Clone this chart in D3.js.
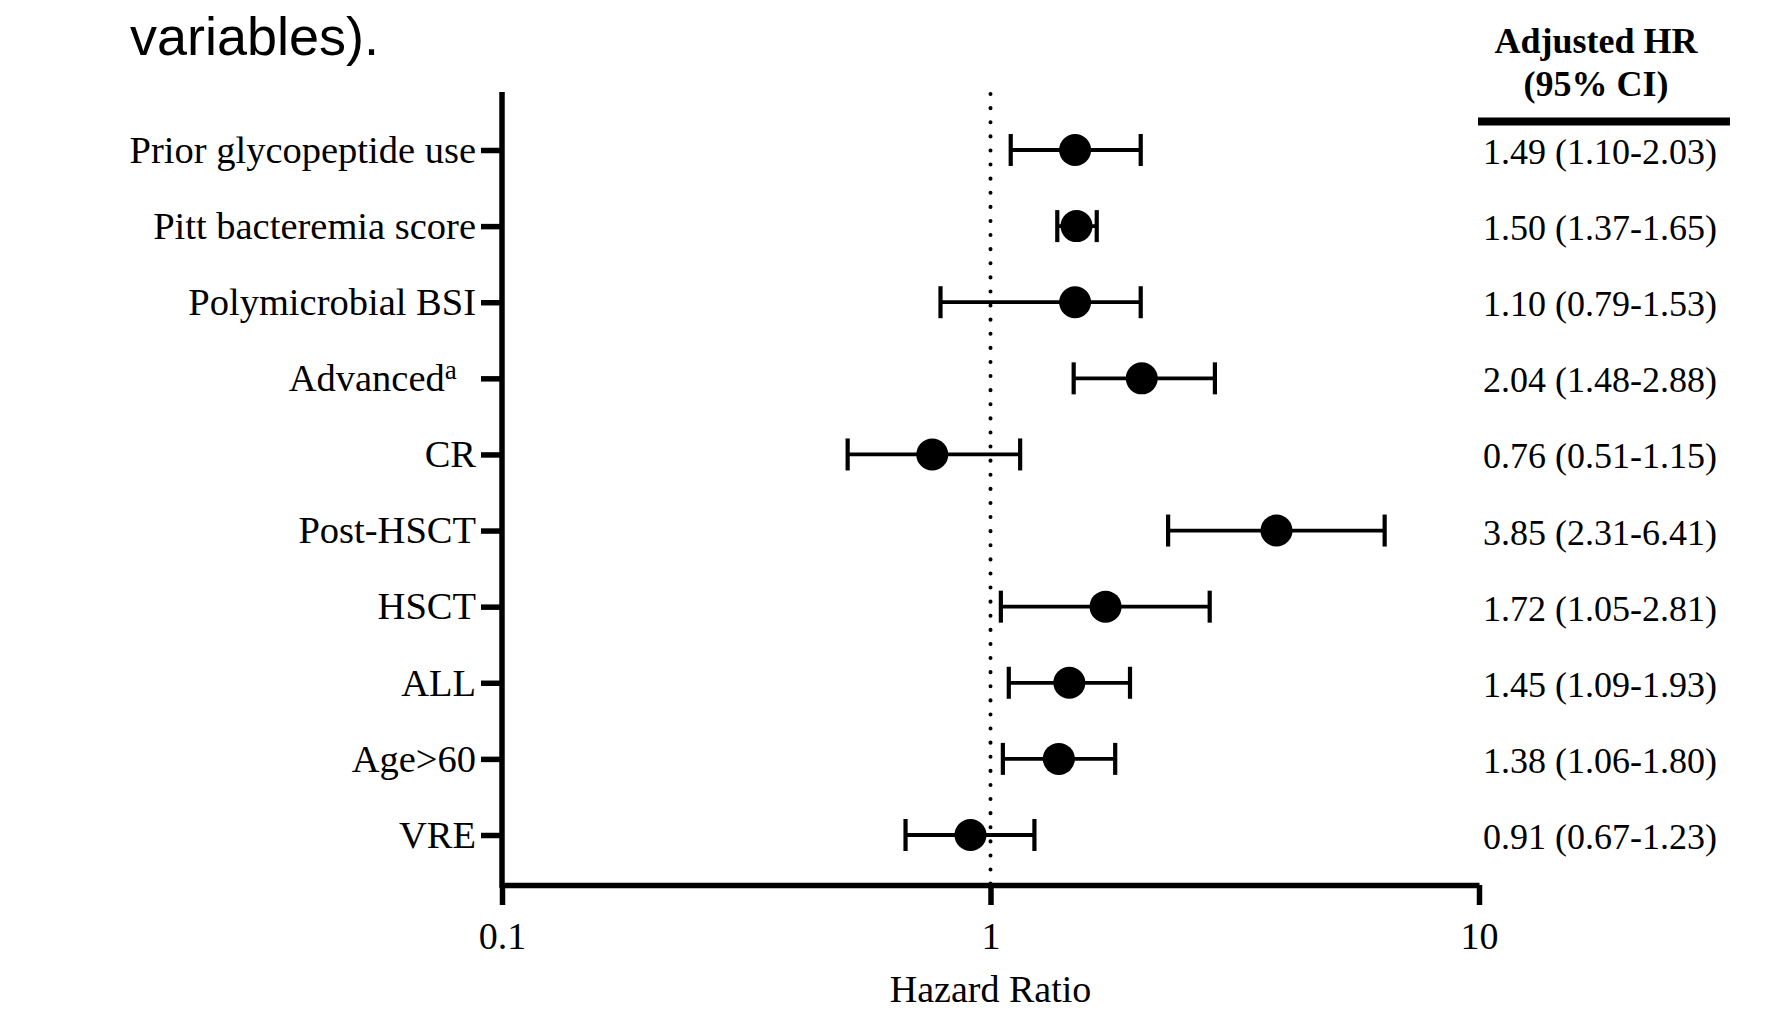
<!DOCTYPE html>
<html>
<head>
<meta charset="utf-8">
<script src="https://cdn.jsdelivr.net/npm/d3@7"></script>
<style>
  html, body { margin: 0; padding: 0; background: #fff; }
  svg { display: block; }
</style>
</head>
<body>
<svg id="chart" width="1770" height="1011"></svg>
<script>
// ---- Data ----
const categories = [
  "Prior glycopeptide use",
  "Pitt bacteremia score",
  "Polymicrobial BSI",
  "Advanced",
  "CR",
  "Post-HSCT",
  "HSCT",
  "ALL",
  "Age>60",
  "VRE"
];
const hazardRatio = [1.49, 1.50, 1.49, 2.04, 0.76, 3.85, 1.72, 1.45, 1.38, 0.91];
const ciLower     = [1.10, 1.37, 0.79, 1.48, 0.51, 2.31, 1.05, 1.09, 1.06, 0.67];
const ciUpper     = [2.03, 1.65, 2.03, 2.88, 1.15, 6.41, 2.81, 1.93, 1.80, 1.23];
const ciLabels = [
  "1.49 (1.10-2.03)",
  "1.50 (1.37-1.65)",
  "1.10 (0.79-1.53)",
  "2.04 (1.48-2.88)",
  "0.76 (0.51-1.15)",
  "3.85 (2.31-6.41)",
  "1.72 (1.05-2.81)",
  "1.45 (1.09-1.93)",
  "1.38 (1.06-1.80)",
  "0.91 (0.67-1.23)"
];
const xTickValues = [0.1, 1, 10];
const xTickLabels = ["0.1", "1", "10"];
const referenceValue = 1;
const titleText = "variables).";
const headerLines = ["Adjusted HR", "(95% CI)"];
const xAxisTitle = "Hazard Ratio";

// ---- Layout ----
const serif = "'Liberation Serif', 'Times New Roman', Times, serif";
const sans = "'Liberation Sans', Arial, Helvetica, sans-serif";
const plotLeft = 502, plotRight = 1479, plotTop = 92, plotBottom = 885;
const axisWidth = 5.5;

const svg = d3.select("#chart");

const x = d3.scaleLog().domain([0.1, 10]).range([plotLeft, plotRight]);
const y = d3.scalePoint().domain(categories).range([150, 835]);

const rows = categories.map((c, i) => ({
  cat: c, hr: hazardRatio[i], lo: ciLower[i], hi: ciUpper[i], label: ciLabels[i]
}));

// Title fragment
svg.append("text")
  .attr("x", 130).attr("y", 55)
  .attr("font-family", sans).attr("font-size", 54)
  .attr("fill", "#000")
  .text(titleText);

// Reference dotted line at HR = 1
svg.append("line")
  .attr("x1", x(referenceValue)).attr("x2", x(referenceValue))
  .attr("y1", plotTop + 2).attr("y2", plotBottom)
  .attr("stroke", "#000").attr("stroke-width", 4)
  .attr("stroke-linecap", "round")
  .attr("stroke-dasharray", "0.1,14");

// X axis
const xAxis = d3.axisBottom(x)
  .tickValues(xTickValues)
  .tickFormat((d, i) => xTickLabels[i])
  .tickSize(20).tickSizeOuter(0).tickPadding(17);

const gx = svg.append("g")
  .attr("transform", `translate(0,${plotBottom})`)
  .call(xAxis);
gx.select(".domain").attr("stroke", "#000").attr("stroke-width", axisWidth);
gx.selectAll(".tick line").attr("stroke", "#000").attr("stroke-width", axisWidth);
gx.selectAll(".tick text")
  .attr("font-family", serif).attr("font-size", 38).attr("fill", "#000");

// Y axis
const yAxis = d3.axisLeft(y).tickSize(21).tickSizeOuter(0).tickPadding(5);
const gy = svg.append("g")
  .attr("transform", `translate(${plotLeft},0)`)
  .call(yAxis);
gy.select(".domain").remove();
gy.selectAll(".tick line").attr("stroke", "#000").attr("stroke-width", axisWidth);
gy.selectAll(".tick text")
  .attr("font-family", serif).attr("font-size", 38.5).attr("fill", "#000")
  .each(function (d) {
    if (d === "Advanced") {
      const t = d3.select(this);
      t.text(null);
      t.append("tspan").text("Advanced");
      t.append("tspan").attr("font-size", 27).attr("dy", -12).text("a");
      t.append("tspan").attr("dy", 12).text("\u00a0\u00a0");
    }
  });
// Vertical axis line
svg.append("line")
  .attr("x1", plotLeft).attr("x2", plotLeft)
  .attr("y1", plotTop).attr("y2", plotBottom + axisWidth / 2)
  .attr("stroke", "#000").attr("stroke-width", axisWidth);

// Error bars
const bars = svg.append("g").selectAll("g").data(rows).join("g");
bars.append("line")
  .attr("x1", d => x(d.lo)).attr("x2", d => x(d.hi))
  .attr("y1", d => y(d.cat)).attr("y2", d => y(d.cat))
  .attr("stroke", "#000").attr("stroke-width", 3.8);
bars.append("line")
  .attr("x1", d => x(d.lo)).attr("x2", d => x(d.lo))
  .attr("y1", d => y(d.cat) - 16).attr("y2", d => y(d.cat) + 16)
  .attr("stroke", "#000").attr("stroke-width", 4.2);
bars.append("line")
  .attr("x1", d => x(d.hi)).attr("x2", d => x(d.hi))
  .attr("y1", d => y(d.cat) - 16).attr("y2", d => y(d.cat) + 16)
  .attr("stroke", "#000").attr("stroke-width", 4.2);
bars.append("circle")
  .attr("cx", d => x(d.hr)).attr("cy", d => y(d.cat))
  .attr("r", 16).attr("fill", "#000");

// X axis title
svg.append("text")
  .attr("x", x(referenceValue)).attr("y", 1002)
  .attr("text-anchor", "middle")
  .attr("font-family", serif).attr("font-size", 38).attr("fill", "#000")
  .text(xAxisTitle);

// Right-hand table
const tableLeft = 1483;
svg.append("g").selectAll("text").data(headerLines).join("text")
  .attr("x", 1596).attr("y", (d, i) => i === 0 ? 53 : 96)
  .attr("text-anchor", "middle")
  .attr("font-family", serif).attr("font-size", 36).attr("font-weight", "bold")
  .attr("fill", "#000")
  .text(d => d);
svg.append("line")
  .attr("x1", 1478).attr("x2", 1730).attr("y1", 121.5).attr("y2", 121.5)
  .attr("stroke", "#000").attr("stroke-width", 8);
svg.append("g").selectAll("text").data(rows).join("text")
  .attr("x", tableLeft).attr("y", d => y(d.cat) + 14)
  .attr("font-family", serif).attr("font-size", 36).attr("fill", "#000")
  .text(d => d.label);
</script>
</body>
</html>
